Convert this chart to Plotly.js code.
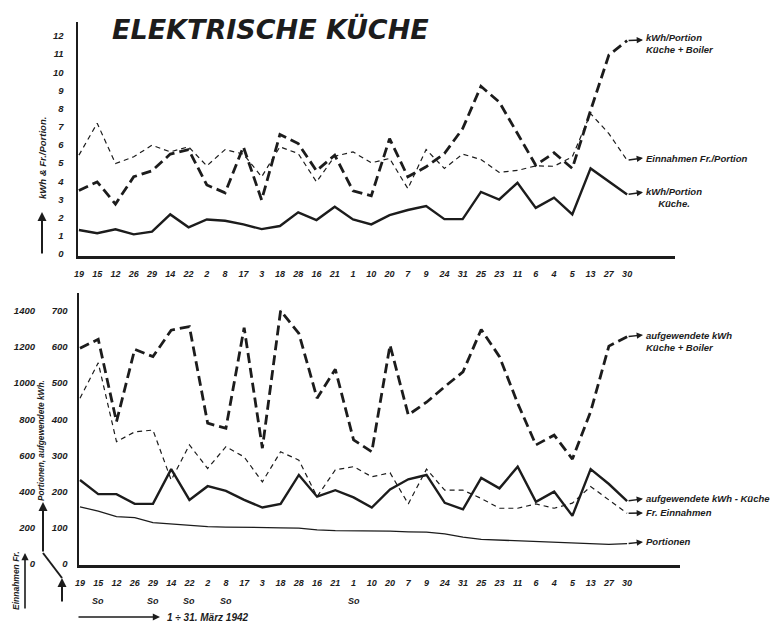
<!DOCTYPE html>
<html><head><meta charset="utf-8">
<script src="https://cdn.plot.ly/plotly-3.0.1.min.js"></script>
<style>html,body{margin:0;padding:0;background:#fff}#c{width:784px;height:625px}</style>
</head><body><div id="c"></div><script>
// March 1942 days, in the order drawn
const days = ['19','15','12','26','29','14','22','2','8','17','3','18','28','16','21','1','10','20','7','9','24','31','25','23','11','6','4','5','13','27','30'];
// top panel: per portion
const kwhPortionBoiler = [3.5,3.97,2.75,4.25,4.58,5.5,5.75,3.8,3.37,5.9,2.97,6.58,6.08,4.58,5.44,3.48,3.2,6.35,4.25,4.8,5.53,6.9,9.23,8.37,6.63,4.89,5.57,4.71,7.9,10.95,11.75];
const einnahmenPortion = [5.44,7.2,4.98,5.35,5.99,5.62,5.9,4.85,5.75,5.5,4.25,5.9,5.53,3.97,5.38,5.62,5.02,5.26,3.6,5.75,4.71,5.5,5.2,4.49,4.6,4.85,4.83,5.35,7.73,6.63,5.16];
const kwhPortionKueche = [1.32,1.14,1.36,1.08,1.23,2.18,1.47,1.9,1.83,1.63,1.37,1.54,2.29,1.87,2.6,1.9,1.63,2.14,2.42,2.64,1.92,1.92,3.42,3.0,3.92,2.54,3.1,2.18,4.71,3.97,3.28];
// bottom panel: totals
const kwhBoiler = [596,621,393,593,573,646,656,389,375,653,320,700,637,458,538,343,310,605,412,447,490,531,648,573,444,329,356,290,421,602,628];
const einnahmenFr = [916,1112,676,730,740,464,658,528,648,592,454,620,574,372,520,538,482,504,332,524,408,408,362,308,308,332,308,336,428,354,280];
const kwhKueche = [232,193,193,166,166,262,177,215,202,177,156,166,246,186,204,184,156,206,234,246,169,151,238,209,269,172,200,133,262,221,174];
const portionen = [158,146,131,128,114,110,107,103,102,102,102,100,99,94,92,92,92,91,89,88,83,74,68,66,64,63,61,59,55,54,56];
const topTicks = [0,1,2,3,4,5,6,7,8,9,10,11,12];
const kwhTicks = [0,100,200,300,400,500,600,700];
const frTicks = [0,200,400,600,800,1000,1200,1400];
const sundays = ['15','29','22','8','1'];

const W = 784, H = 625;
const px = x => x / W, py = y => 1 - y / H;
const ink = '#1c1c1c';
const hand = {family: 'Liberation Sans, DejaVu Sans, sans-serif', weight: 'bold', style: 'italic', color: ink};
const f = s => Object.assign({}, hand, {size: s});

const traces = [
  {x: days, y: kwhPortionBoiler, xaxis: 'x', yaxis: 'y', mode: 'lines', line: {color: ink, width: 2.8, dash: '10px,5px'}},
  {x: days, y: einnahmenPortion, xaxis: 'x', yaxis: 'y', mode: 'lines', line: {color: ink, width: 1.2, dash: '5px,4px'}},
  {x: days, y: kwhPortionKueche, xaxis: 'x', yaxis: 'y', mode: 'lines', line: {color: ink, width: 2.4}},
  {x: days, y: kwhBoiler, xaxis: 'x2', yaxis: 'y3', mode: 'lines', line: {color: ink, width: 2.8, dash: '10px,5px'}},
  {x: days, y: einnahmenFr, xaxis: 'x2', yaxis: 'y4', mode: 'lines', line: {color: ink, width: 1.2, dash: '5px,4px'}},
  {x: days, y: kwhKueche, xaxis: 'x2', yaxis: 'y3', mode: 'lines', line: {color: ink, width: 2.4}},
  {x: days, y: portionen, xaxis: 'x2', yaxis: 'y3', mode: 'lines', line: {color: ink, width: 1.3}}
];

const n = days.length - 1;
const ann = [];
function endLabel(xr, yr, tailY, headY, text, labelY, align) {
  ann.push({xref: xr, yref: yr, axref: xr, ayref: yr, x: n + 0.87, y: headY, ax: n, ay: tailY,
    showarrow: true, arrowhead: 2, arrowsize: 0.9, arrowwidth: 1.4, arrowcolor: ink, text: ''});
  ann.push({xref: xr, yref: yr, x: n + 0.95, y: labelY, xanchor: 'left', yanchor: 'middle',
    text: text, showarrow: false, align: align || 'left', font: f(9.5)});
}
endLabel('x', 'y', kwhPortionBoiler[n], 11.78, 'kWh/Portion<br>Küche + Boiler', 11.6);
endLabel('x', 'y', einnahmenPortion[n], 5.28, 'Einnahmen Fr./Portion', 5.28);
endLabel('x', 'y', kwhPortionKueche[n], 3.4, 'kWh/Portion<br>Küche.', 3.1, 'center');
endLabel('x2', 'y3', kwhBoiler[n], 633, 'aufgewendete kWh<br>Küche + Boiler', 614);
endLabel('x2', 'y3', kwhKueche[n], 180, 'aufgewendete kWh - Küche', 180);
endLabel('x2', 'y4', einnahmenFr[n], 282, 'Fr. Einnahmen', 282);
endLabel('x2', 'y3', portionen[n], 61, 'Portionen', 61);

function txt(x, y, text, size, angle, xa) {
  ann.push({xref: 'paper', yref: 'paper', x: px(x), y: py(y), text: text, textangle: angle || 0,
    xanchor: xa || 'center', yanchor: 'middle', showarrow: false, font: f(size)});
}
function arrow(x, y, ax, ay, w) {
  ann.push({xref: 'paper', yref: 'paper', x: px(x), y: py(y), ax: ax, ay: ay, showarrow: true,
    arrowhead: 2, arrowsize: 0.9, arrowwidth: w, arrowcolor: ink, text: ''});
}
// axis titles and arrows
txt(42, 158, 'kWh & Fr./Portion.', 9.5, -90);
arrow(42, 212, 0, 43, 2);
txt(41, 441, 'Portionen, aufgewendete kWh.', 8.3, -90);
arrow(43, 502, 0, 51, 2);
arrow(62, 578, 0, 25, 2);
txt(16, 580, 'Einnahmen Fr.', 8.5, -90);
arrow(25, 553, 0, 57, 1.6);
arrow(160, 617, -83, 0, 1.6);
txt(165, 617, '1 ÷ 31. März 1942', 10, 0, 'left');
sundays.forEach(d => ann.push({xref: 'x2', yref: 'paper', x: days.indexOf(d), y: py(601), yanchor: 'middle',
  text: 'So', showarrow: false, font: f(9)}));

const shapes = [
  {type: 'line', xref: 'paper', yref: 'paper', x0: px(62), y0: py(578), x1: px(43), y1: py(553), line: {color: ink, width: 2}}
];

const yCommon = {showgrid: false, zeroline: false, showline: false, ticks: '', tickfont: f(9.5)};
const layout = {
  width: W, height: H, margin: {l: 0, r: 0, t: 0, b: 0},
  paper_bgcolor: '#fff', plot_bgcolor: 'rgba(0,0,0,0)', showlegend: false,
  title: {text: 'ELEKTRISCHE KÜCHE', x: px(112), xanchor: 'left', xref: 'paper', y: py(30), yanchor: 'middle', yref: 'paper',
    font: {family: 'DejaVu Sans, sans-serif', weight: 'bold', style: 'italic', color: ink, size: 27}},
  xaxis: {type: 'category', domain: [px(78), px(675)], range: [-0.05, 32.62], anchor: 'y',
    showgrid: false, zeroline: false, showline: true, linecolor: ink, linewidth: 2.5, ticks: '',
    tickfont: f(9), ticklabelstandoff: 8, tickangle: 0},
  yaxis: Object.assign({}, yCommon, {domain: [py(256), py(22)], range: [-0.11, 12.77], anchor: 'x',
    showline: true, linecolor: ink, linewidth: 2.5, tickvals: topTicks, ticklabelstandoff: 10}),
  xaxis2: {type: 'category', domain: [px(79), px(680)], range: [-0.055, 32.9], anchor: 'y3',
    showgrid: false, zeroline: false, showline: true, linecolor: ink, linewidth: 2.5, ticks: '',
    tickfont: f(9), ticklabelstandoff: 8, tickangle: 0},
  yaxis3: Object.assign({}, yCommon, {domain: [py(565), py(293)], range: [-2.8, 748.8], anchor: 'x2',
    showline: true, linecolor: ink, linewidth: 2.5, tickvals: kwhTicks, ticklabelstandoff: 7}),
  yaxis4: Object.assign({}, yCommon, {overlaying: 'y3', anchor: 'free', position: px(36), side: 'left',
    range: [-5.6, 1497.6], tickvals: frTicks, ticklabelstandoff: 1}),
  annotations: ann, shapes: shapes
};
Plotly.newPlot('c', traces, layout, {displayModeBar: false, staticPlot: true});
</script></body></html>
